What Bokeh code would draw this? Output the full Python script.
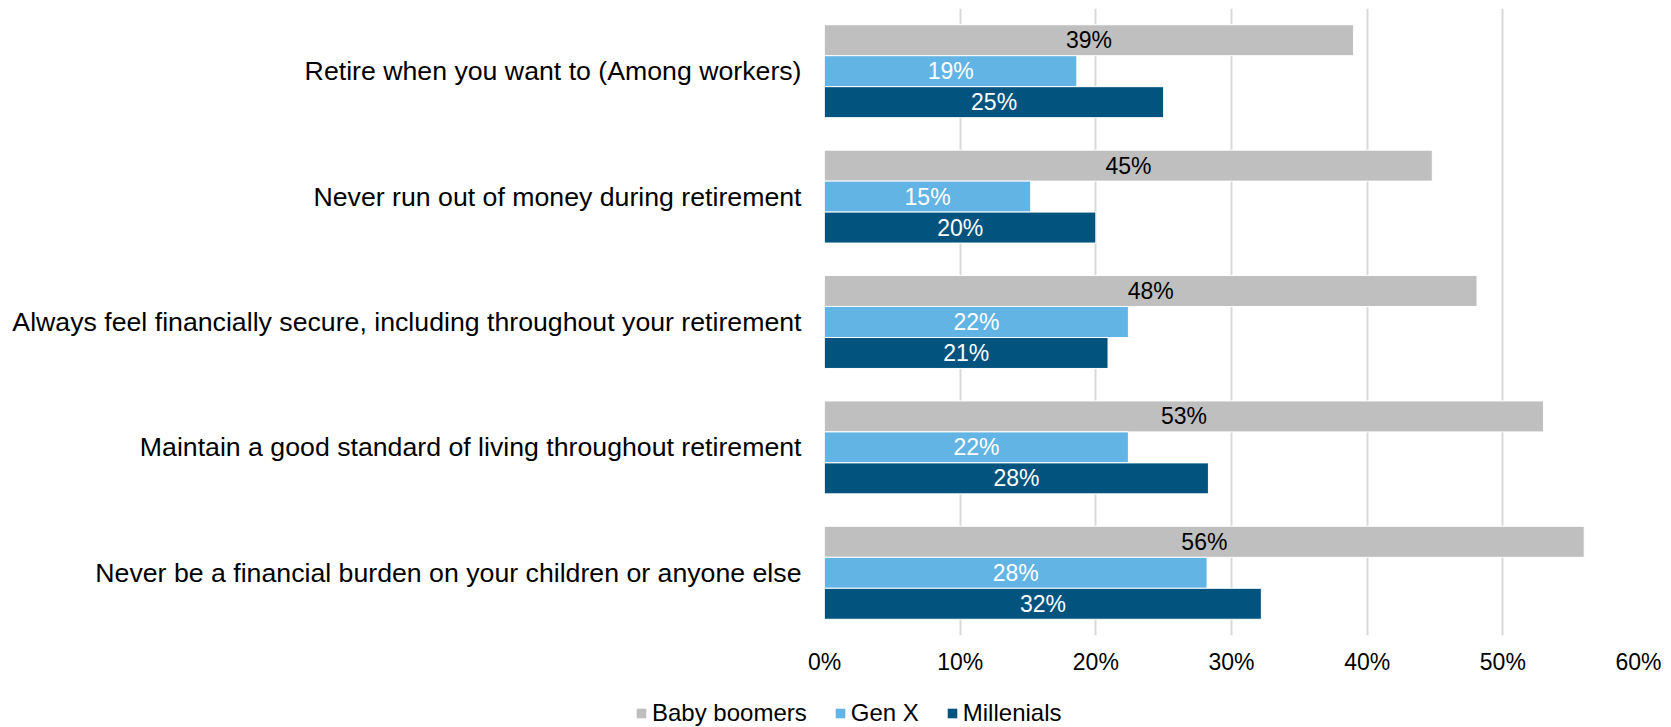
from bokeh.plotting import figure
from bokeh.layouts import column
from bokeh.models import (ColumnDataSource, FactorRange, Range1d, LabelSet, Legend, LegendItem,
                          PrintfTickFormatter, FixedTicker)
from bokeh.core.properties import value
from bokeh.transform import dodge
from bokeh.embed import file_html
from bokeh.resources import INLINE

categories = [
    "Retire when you want to (Among workers)",
    "Never run out of money during retirement",
    "Always feel financially secure, including throughout your retirement",
    "Maintain a good standard of living throughout retirement",
    "Never be a financial burden on your children or anyone else",
]
baby_boomers = [39.0, 44.8, 48.1, 53.0, 56.0]
gen_x = [18.6, 15.2, 22.4, 22.4, 28.2]
millenials = [25.0, 20.0, 20.9, 28.3, 32.2]
x_ticks = [0, 10, 20, 30, 40, 50, 60]

series_names = ["Baby boomers", "Gen X", "Millenials"]
series_values = [baby_boomers, gen_x, millenials]
colors = ["#bfbfbf", "#62b4e5", "#02547f"]
label_colors = ["#000000", "#ffffff", "#ffffff"]
offsets = [0.247, 0.0, -0.247]
FONT = "Liberation Sans"

p = figure(width=1671, height=685, output_backend="svg", toolbar_location=None,
           y_range=FactorRange(factors=categories[::-1]), x_range=Range1d(0, 60),
           min_border_left=824, min_border_right=33, min_border_top=8, min_border_bottom=50)
p.outline_line_color = None
p.frame_align = False

for name, vals, col, lcol, off in zip(series_names, series_values, colors, label_colors, offsets):
    src = ColumnDataSource(dict(cat=categories, val=vals, half=[v / 2 for v in vals],
                                txt=[f"{round(v)}%" for v in vals]))
    p.hbar(y=dodge("cat", off, range=p.y_range), right="val", left=0, height=0.247,
           source=src, fill_color=col, line_color="white", line_width=1)
    lbl = LabelSet(x="half", y=dodge("cat", off, range=p.y_range), text="txt", source=src,
                   text_align="center", text_baseline="middle", text_color=lcol,
                   text_font=value(FONT), text_font_size="23px")
    p.add_layout(lbl)

# axes
p.yaxis.axis_line_color = None
p.yaxis.major_tick_line_color = None
p.yaxis.minor_tick_line_color = None
p.yaxis.major_label_text_font = FONT
p.yaxis.major_label_text_font_size = "26.7px"
p.yaxis.major_label_text_color = "#000000"
p.yaxis.major_label_standoff = 17

p.xaxis.ticker = FixedTicker(ticks=x_ticks)
p.xaxis.formatter = PrintfTickFormatter(format="%d%%")
p.xaxis.axis_line_color = None
p.xaxis.major_tick_line_color = None
p.xaxis.minor_tick_line_color = None
p.xaxis.major_label_text_font = FONT
p.xaxis.major_label_text_font_size = "23px"
p.xaxis.major_label_text_color = "#000000"
p.xaxis.major_label_standoff = 7

p.ygrid.grid_line_color = None
p.xgrid.ticker = FixedTicker(ticks=x_ticks)
p.xgrid.grid_line_color = "#d9d9d9"
p.xgrid.grid_line_width = 2

# legend strip below the chart
lg = figure(width=1671, height=42, output_backend="svg", toolbar_location=None,
            x_range=Range1d(0, 1), y_range=Range1d(0, 1),
            min_border_left=0, min_border_right=0, min_border_top=0, min_border_bottom=0)
lg.outline_line_color = None
lg.frame_align = False
lg.axis.visible = False
lg.grid.visible = False
swatches = []
for name, vals, col in zip(series_names, series_values, colors):
    s = lg.hbar(y=[0], right=[vals[0]], left=0, height=1, fill_color=col, line_color=None)
    s.visible = False
    swatches.append(s)

legend = Legend(items=[LegendItem(label=n, renderers=[r]) for n, r in zip(series_names, swatches)],
                orientation="horizontal", location=(635, 0),
                glyph_width=12, glyph_height=12, label_standoff=5, spacing=27,
                padding=0, margin=0, border_line_color=None, background_fill_alpha=0,
                label_text_font=FONT, label_text_font_size="24px", label_text_color="#000000",
                label_text_baseline="middle", label_height=20)
lg.add_layout(legend, "center")

layout = column(p, lg, spacing=0)
open("out.html", "w").write(file_html(layout, INLINE))
